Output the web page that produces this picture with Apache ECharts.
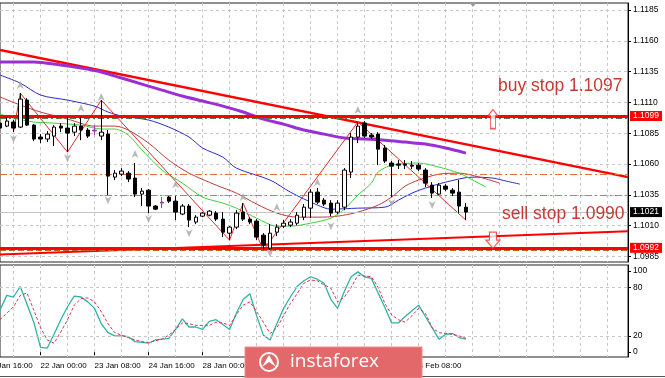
<!DOCTYPE html>
<html>
<head>
<meta charset="utf-8">
<script src="https://cdn.jsdelivr.net/npm/echarts@6/dist/echarts.min.js"></script>
<style>
html, body { margin: 0; padding: 0; background: #fff; }
#chart { width: 665px; height: 378px; }
</style>
</head>
<body>
<div id="chart"></div>
<script>
// H4 EURUSD, bar index 0 = 20 Jan 16:00, one label every 8 bars
const barCount = 96;
const firstBar = 2;
const tickLabels = ['20 Jan 16:00', '22 Jan 00:00', '23 Jan 08:00', '24 Jan 16:00', '28 Jan 00:00',
  '29 Jan 08:00', '30 Jan 16:00', '3 Feb 00:00', '4 Feb 08:00'];
const priceTicks = [1.0985, 1.1010, 1.1035, 1.1060, 1.1085, 1.1110, 1.1135, 1.1160, 1.1185];
const stochTicks = [0, 20, 80, 100];

// candles from bar 2 to bar 71
const open = [1.10932, 1.10908, 1.10941, 1.10900, 1.11119, 1.10916, 1.10819, 1.10803, 1.10827, 1.10908,
  1.10892, 1.10859, 1.10908, 1.10876, 1.10876, 1.10827, 1.10843, 1.10494, 1.10518, 1.10526,
  1.10486, 1.10356, 1.10388, 1.10259, 1.10283, 1.10332, 1.10299, 1.10194, 1.10259, 1.10129,
  1.10177, 1.10185, 1.10202, 1.10153, 1.10039, 1.10088, 1.10210, 1.10153, 1.10137, 1.10023,
  1.09917, 1.10047, 1.10096, 1.10104, 1.10120, 1.10169, 1.10242, 1.10372, 1.10307, 1.10283,
  1.10210, 1.10250, 1.10535, 1.10819, 1.10932, 1.10835, 1.10843, 1.10730, 1.10608, 1.10600,
  1.10600, 1.10591, 1.10591, 1.10551, 1.10429, 1.10356, 1.10421, 1.10388, 1.10372, 1.10250];
const close = [1.10892, 1.10949, 1.10892, 1.11127, 1.10916, 1.10803, 1.10803, 1.10843, 1.10900, 1.10892,
  1.10851, 1.10908, 1.10876, 1.10827, 1.10868, 1.10859, 1.10502, 1.10526, 1.10543, 1.10478,
  1.10356, 1.10380, 1.10259, 1.10234, 1.10291, 1.10299, 1.10210, 1.10259, 1.10145, 1.10169,
  1.10202, 1.10218, 1.10153, 1.10047, 1.10088, 1.10202, 1.10153, 1.10129, 1.10007, 1.09942,
  1.10039, 1.10088, 1.10120, 1.10129, 1.10185, 1.10250, 1.10372, 1.10291, 1.10275, 1.10202,
  1.10283, 1.10551, 1.10819, 1.10908, 1.10827, 1.10819, 1.10721, 1.10624, 1.10583, 1.10591,
  1.10591, 1.10583, 1.10559, 1.10445, 1.10364, 1.10429, 1.10396, 1.10364, 1.10259, 1.10210];
const low = [1.10876, 1.10900, 1.10859, 1.10892, 1.10908, 1.10786, 1.10770, 1.10778, 1.10746, 1.10859,
  1.10697, 1.10827, 1.10794, 1.10811, 1.10835, 1.10794, 1.10348, 1.10470, 1.10502, 1.10453,
  1.10332, 1.10259, 1.10202, 1.10226, 1.10242, 1.10283, 1.10145, 1.10185, 1.10088, 1.10112,
  1.10169, 1.10177, 1.10137, 1.10007, 1.09982, 1.10072, 1.10137, 1.10112, 1.09982, 1.09901,
  1.09901, 1.10015, 1.10080, 1.10088, 1.10104, 1.10145, 1.10161, 1.10275, 1.10259, 1.10177,
  1.10194, 1.10226, 1.10486, 1.10770, 1.10811, 1.10803, 1.10591, 1.10608, 1.10332, 1.10559,
  1.10559, 1.10559, 1.10543, 1.10413, 1.10324, 1.10348, 1.10380, 1.10340, 1.10202, 1.10145];
const high = [1.10949, 1.10981, 1.10957, 1.11176, 1.11135, 1.10924, 1.10843, 1.10867, 1.10916, 1.10932,
  1.10981, 1.10932, 1.10981, 1.10892, 1.10916, 1.11119, 1.10876, 1.10551, 1.10567, 1.10543,
  1.10608, 1.10405, 1.10396, 1.10267, 1.10332, 1.10340, 1.10340, 1.10275, 1.10275, 1.10185,
  1.10210, 1.10226, 1.10218, 1.10210, 1.10096, 1.10226, 1.10283, 1.10169, 1.10153, 1.10039,
  1.10112, 1.10112, 1.10145, 1.10153, 1.10210, 1.10275, 1.10396, 1.10405, 1.10324, 1.10307,
  1.10307, 1.10567, 1.10851, 1.10941, 1.10949, 1.10851, 1.10859, 1.10754, 1.10624, 1.10632,
  1.10632, 1.10624, 1.10608, 1.10567, 1.10453, 1.10445, 1.10437, 1.10405, 1.10470, 1.10283];
const dojiBars = [16, 26];

// indicators, [bar, price]
const ma200 = [[2, 1.11428], [7, 1.11428], [11, 1.11403], [14, 1.11379], [17, 1.11347], [20, 1.11298],
  [23, 1.11249], [26, 1.11200], [29, 1.11152], [32, 1.11111], [35, 1.11070], [38, 1.11022], [41, 1.10965],
  [44, 1.10924], [47, 1.10876], [50, 1.10843], [53, 1.10811], [56, 1.10803], [59, 1.10794], [62, 1.10778],
  [65, 1.10762], [68, 1.10730], [71, 1.10689]];
const jaw = [[2, 1.11322], [5, 1.11257], [8, 1.11160], [12, 1.11119], [16, 1.11070], [18, 1.11022],
  [20, 1.10990], [24, 1.10957], [27, 1.10900], [30, 1.10819], [32, 1.10730], [35, 1.10656], [37, 1.10567],
  [42, 1.10470], [45, 1.10372], [49, 1.10267], [51, 1.10234], [55, 1.10242], [59, 1.10250], [61, 1.10307],
  [63, 1.10364], [65, 1.10405], [68, 1.10453], [72, 1.10494], [75, 1.10486], [77, 1.10461], [79, 1.10437]];
const teeth = [[2, 1.11144], [5, 1.11079], [8, 1.11022], [12, 1.10965], [16, 1.10908], [19, 1.10908],
  [21, 1.10876], [24, 1.10770], [27, 1.10632], [30, 1.10526], [34, 1.10429], [37, 1.10364], [40, 1.10275],
  [43, 1.10202], [46, 1.10169], [49, 1.10169], [52, 1.10177], [55, 1.10210], [58, 1.10267], [60, 1.10332],
  [62, 1.10421], [64, 1.10470], [67, 1.10518], [70, 1.10526], [73, 1.10494], [76, 1.10445]];
const lips = [[2, 1.11006], [4, 1.10973], [7, 1.10941], [10, 1.10932], [14, 1.10916], [17, 1.10884],
  [19, 1.10884], [21, 1.10835], [23, 1.10715], [26, 1.10551], [29, 1.10445], [32, 1.10332], [35, 1.10283],
  [37, 1.10242], [40, 1.10161], [43, 1.10096], [45, 1.10096], [48, 1.10120], [51, 1.10161], [53, 1.10234],
  [55, 1.10348], [57, 1.10445], [58, 1.10535], [60, 1.10591], [64, 1.10608], [67, 1.10575], [70, 1.10526],
  [72, 1.10470], [74, 1.10413]];
const zigzag = [[4, 1.10859], [5, 1.11176], [12, 1.10697], [17, 1.11119], [36, 1.09982], [38, 1.10283],
  [41, 1.09901], [55, 1.10941], [71, 1.10145]];
const fractalUp = [[5, 1.11241], [14, 1.11054], [17, 1.11144], [22, 1.10681], [28, 1.10437], [38, 1.10332],
  [43, 1.10250], [49, 1.10453], [55, 1.11038]];
const fractalDown = [[4, 1.10803], [12, 1.10648], [18, 1.10307], [24, 1.10153], [30, 1.10039], [42, 1.09877],
  [51, 1.10096], [60, 1.10283], [66, 1.10267]];

// drawn lines and levels
const resistLine = [[2, 1.11525], [95, 1.10494]];
const supportLine = [[2, 1.09865], [95, 1.10055]];
const upperLevel = 1.1099;
const buyStop = 1.1097;
const lowerLevel = 1.0992;
const sellStop = 1.0990;
const dashLevels = [1.1052, 1.1035];
const bidPrice = 1.1021;
const buyArrow = [[75, 1.10965]];
const sellArrow = [[75, 1.09982]];

// stochastic, bars 2..71
const stochMain = [52, 70, 68, 81, 59, 37, 6, 5, 22, 40,
  56, 69, 68, 62, 54, 35, 24, 20, 20, 19,
  13, 12, 11, 15, 16, 17, 28, 41, 31, 31,
  28, 38, 40, 34, 28, 48, 65, 72, 45, 21,
  15, 35, 54, 68, 81, 88, 93, 90, 85, 65,
  54, 75, 93, 99, 93, 91, 73, 55, 36, 36,
  44, 51, 58, 44, 30, 16, 22, 23, 18, 16];
const stochSignal = [40, 48, 56, 70, 73, 52, 30, 15, 11, 25,
  40, 58, 66, 67, 62, 50, 35, 24, 21, 18,
  15, 13, 12, 14, 16, 21, 28, 36, 35, 33,
  33, 33, 37, 36, 33, 46, 58, 62, 50, 37,
  23, 30, 45, 60, 72, 85, 89, 88, 83, 79,
  62, 68, 80, 95, 94, 93, 80, 60, 46, 40,
  37, 45, 54, 48, 30, 24, 23, 22, 20, 17];

const FONT = "'Liberation Sans Narrow', 'Liberation Sans', Arial, sans-serif";
const categories = Array.from({length: barCount}, (_, i) => String(i));
const candles = open.map((o, i) => {
  const k = firstBar + i;
  const v = [k, o, close[i], low[i], high[i]];
  if (dojiBars.includes(k)) {
    return {value: v, itemStyle: {borderColor: '#9a3fb0', borderColor0: '#9a3fb0', color: '#9a3fb0', color0: '#9a3fb0'}};
  }
  return v;
});
const withBars = arr => arr.map((v, i) => [firstBar + i, v]);

const boxLabel = (bg) => ({
  show: true, position: 'end', distance: 2,
  formatter: p => Number(p.value).toFixed(4),
  backgroundColor: bg, color: '#fff', padding: [1, 3, 0, 3],
  fontSize: 8.5, fontFamily: FONT
});
const UP_ARROW = 'path://M50 0 L100 100 L50 72 L0 100 Z';
const DOWN_ARROW = 'path://M50 100 L100 0 L50 28 L0 0 Z';
const labelEvery = i => i % 8 === 0 && i / 8 < tickLabels.length;
const gridEvery = i => i % 4 === 0;

const chart = echarts.init(document.getElementById('chart'));
chart.setOption({
  animation: false,
  backgroundColor: '#fff',
  grid: [
    {left: 0, right: 37, top: 3, height: 259, show: true, borderColor: '#222', borderWidth: 1, backgroundColor: '#fff'},
    {left: 0, right: 37, top: 265, height: 92, show: true, borderColor: '#222', borderWidth: 1, backgroundColor: '#fff'}
  ],
  xAxis: [
    {
      type: 'category', gridIndex: 0, data: categories, boundaryGap: false, min: firstBar,
      axisLine: {show: false}, axisTick: {show: false}, axisLabel: {show: false},
      splitLine: {show: true, interval: gridEvery, lineStyle: {color: '#c8c8c8', type: [3, 3]}}
    },
    {
      type: 'category', gridIndex: 1, data: categories, boundaryGap: false, min: firstBar,
      axisLine: {show: false},
      axisTick: {show: true, interval: labelEvery, length: 3, lineStyle: {color: '#000'}},
      axisLabel: {
        show: true, interval: labelEvery, align: 'left', margin: 5,
        fontSize: 8, color: '#000', fontFamily: FONT,
        formatter: (v) => tickLabels[Number(v) / 8] || ''
      },
      splitLine: {show: true, interval: gridEvery, lineStyle: {color: '#c8c8c8', type: [3, 3]}}
    }
  ],
  yAxis: [
    {
      type: 'value', gridIndex: 0, position: 'right', min: 1.09805, max: 1.11907,
      axisLine: {show: true, lineStyle: {color: '#000'}},
      axisTick: {show: true, length: 3, customValues: priceTicks, lineStyle: {color: '#000'}},
      axisLabel: {customValues: priceTicks, formatter: v => v.toFixed(4), fontSize: 8.5, color: '#000', margin: 5, fontFamily: FONT},
      splitLine: {show: true, lineStyle: {color: '#c8c8c8', type: [3, 3]}}
    },
    {
      type: 'value', gridIndex: 1, position: 'right', min: -6, max: 107.5,
      axisLine: {show: true, lineStyle: {color: '#000'}},
      axisTick: {show: true, length: 3, customValues: stochTicks, lineStyle: {color: '#000'}},
      axisLabel: {customValues: stochTicks, fontSize: 8.5, color: '#000', margin: 5, fontFamily: FONT},
      splitLine: {show: false}
    }
  ],
  series: [
    {
      name: 'trend', type: 'line', data: resistLine, symbol: 'none', z: 3,
      lineStyle: {color: '#ff0000', width: 2.5}
    },
    {
      name: 'support', type: 'line', data: supportLine, symbol: 'none', z: 3,
      lineStyle: {color: '#ff0000', width: 2}
    },
    {name: 'MA', type: 'line', data: ma200, symbol: 'none', smooth: 0.3, z: 4, lineStyle: {color: '#9a2fd6', width: 3}},
    {name: 'jaw', type: 'line', data: jaw, symbol: 'none', smooth: 0.3, z: 4, lineStyle: {color: '#2b2bc8', width: 1}},
    {name: 'teeth', type: 'line', data: teeth, symbol: 'none', smooth: 0.3, z: 4, lineStyle: {color: '#c0393b', width: 1}},
    {name: 'lips', type: 'line', data: lips, symbol: 'none', smooth: 0.3, z: 4, lineStyle: {color: '#3ccf3c', width: 1}},
    {name: 'zigzag', type: 'line', data: zigzag, symbol: 'none', z: 4, lineStyle: {color: '#e02a2a', width: 1}},
    {
      name: 'EURUSD', type: 'candlestick', data: candles, z: 5,
      encode: {x: 0, y: [1, 2, 3, 4]},
      barWidth: 4,
      itemStyle: {color: '#ffffff', color0: '#000000', borderColor: '#000000', borderColor0: '#000000', borderWidth: 1},
      markLine: {
        silent: true, symbol: ['none', 'none'], animation: false, precision: 5,
        data: [
          {yAxis: buyStop, lineStyle: {color: '#4d7f3a', width: 1, type: [6, 3, 2, 3]}, label: {show: false}},
          {yAxis: upperLevel, lineStyle: {color: '#ff0000', width: 3, type: 'solid'}, label: boxLabel('#ff0000')},
          {yAxis: sellStop, lineStyle: {color: '#c0651e', width: 1, type: [6, 3]}, label: {show: false}},
          {yAxis: lowerLevel, lineStyle: {color: '#ff0000', width: 3, type: 'solid'}, label: boxLabel('#ff0000')},
          {yAxis: dashLevels[0], lineStyle: {color: '#e8703a', width: 1, type: [7, 3, 2, 3]}, label: {show: false}},
          {yAxis: dashLevels[1], lineStyle: {color: '#e8703a', width: 1, type: [7, 3, 2, 3]}, label: {show: false}},
          {yAxis: bidPrice, lineStyle: {color: '#c4c4c4', width: 1, type: 'solid'}, label: boxLabel('#000000')}
        ]
      }
    },
    {
      name: 'fractalUp', type: 'scatter', data: fractalUp, symbol: UP_ARROW, symbolSize: [7, 8], z: 6,
      itemStyle: {color: '#a8a8a8'}
    },
    {
      name: 'fractalDown', type: 'scatter', data: fractalDown, symbol: DOWN_ARROW, symbolSize: [7, 8], z: 6,
      itemStyle: {color: '#a8a8a8'}
    },
    {
      name: 'buyArrow', type: 'scatter', data: buyArrow, z: 7,
      symbol: 'path://M50 0 L100 33 L75 33 L75 100 L25 100 L25 33 L0 33 Z', symbolSize: [10, 19],
      itemStyle: {color: '#ffffff', borderColor: '#ff2a2a', borderWidth: 1.2}
    },
    {
      name: 'sellArrow', type: 'scatter', data: sellArrow, z: 7,
      symbol: 'path://M25 0 L75 0 L75 50 L100 50 L50 100 L0 50 L25 50 Z', symbolSize: [14, 16],
      itemStyle: {color: '#ffffff', borderColor: '#ff2a2a', borderWidth: 1.2}
    },
    {
      name: 'main', type: 'line', xAxisIndex: 1, yAxisIndex: 1, data: withBars(stochMain),
      symbol: 'none', z: 4, lineStyle: {color: '#2fb3a8', width: 1.3},
      markLine: {
        silent: true, symbol: ['none', 'none'], animation: false, label: {show: false},
        lineStyle: {color: '#c8c8c8', width: 1, type: [3, 3]},
        data: [{yAxis: 20}, {yAxis: 80}]
      }
    },
    {
      name: 'signal', type: 'line', xAxisIndex: 1, yAxisIndex: 1, data: withBars(stochSignal),
      symbol: 'none', z: 4, lineStyle: {color: '#e0304c', width: 1, type: [3, 2]}
    }
  ],
  graphic: [
    // first time label, its tick sits just left of the visible plot
    {type: 'text', x: -13.5, y: 362, z: 10, style: {text: tickLabels[0], fill: '#000', fontSize: 8, fontFamily: FONT, verticalAlign: 'top'}},
    {type: 'polygon', shape: {points: [[469, 2], [477, 2], [473, 7]]}, style: {fill: '#9a9a9a'}, z: 10},
    {type: 'line', shape: {x1: 0, y1: 376.5, x2: 665, y2: 376.5}, style: {stroke: '#555', lineWidth: 1}, z: 10},
    {
      type: 'text', left: 498, top: 77, z: 10,
      style: {text: 'buy stop 1.1097', fill: '#c43a35', fontSize: 17.5, fontFamily: "'Liberation Sans', Arial, sans-serif"}
    },
    {
      type: 'text', left: 502, top: 205, z: 10,
      style: {text: 'sell stop 1.0990', fill: '#c43a35', fontSize: 17.5, fontFamily: "'Liberation Sans', Arial, sans-serif"}
    },
    // watermark logo, drawn over the axis labels
    {type: 'rect', z: 100, zlevel: 1, shape: {x: 245, y: 347, width: 177, height: 31}, style: {fill: '#e2686a', stroke: '#f08a8a', lineWidth: 1}},
    {type: 'circle', z: 101, zlevel: 1, shape: {cx: 269, cy: 362, r: 9}, style: {fill: 'none', stroke: '#fff', lineWidth: 2}},
    {type: 'polygon', z: 101, zlevel: 1, shape: {points: [[262, 367], [269, 355], [276, 367], [269, 362]]}, style: {fill: '#fff'}},
    {type: 'text', z: 101, zlevel: 1, x: 290, y: 362, style: {text: 'instaforex', fill: '#fff', fontSize: 19, fontFamily: "'Open Sans', sans-serif", verticalAlign: 'middle'}}
  ]
});
</script>
</body>
</html>
